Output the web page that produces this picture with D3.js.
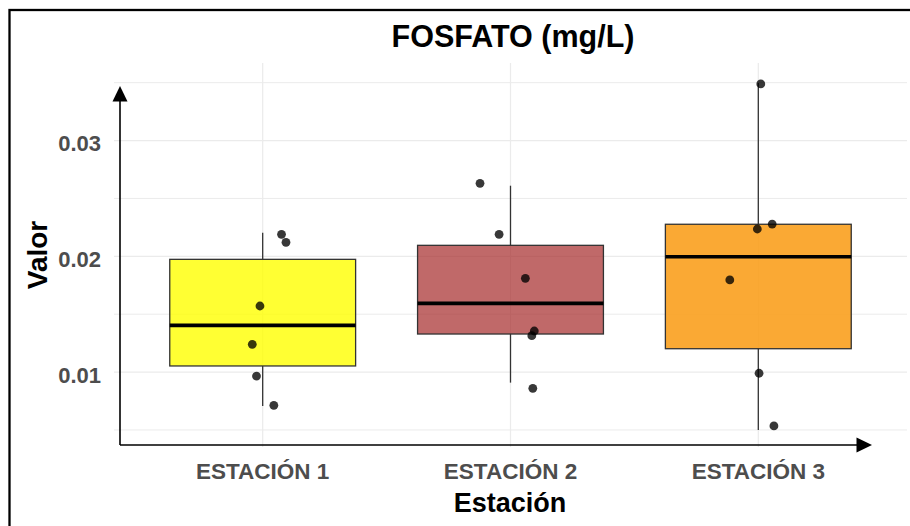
<!DOCTYPE html>
<html>
<head>
<meta charset="utf-8">
<script src="https://cdn.jsdelivr.net/npm/d3@7"></script>
<style>
  html, body { margin: 0; padding: 0; background: #fff; }
  svg { display: block; }
  text { font-family: "Liberation Sans", Arial, sans-serif; font-weight: bold; }
</style>
</head>
<body>
<svg id="chart" width="910" height="526"></svg>
<script>
// Stations on the x axis
const categories = ["ESTACIÓN 1", "ESTACIÓN 2", "ESTACIÓN 3"];

// Box summaries per station (mg/L)
const whiskerLow  = [0.00707, 0.00909, 0.00500];
const q1          = [0.01053, 0.01329, 0.01202];
const median      = [0.01404, 0.01594, 0.01997];
const q3          = [0.01974, 0.02095, 0.02277];
const whiskerHigh = [0.02204, 0.02610, 0.03497];

// Individual samples per station (values) and their horizontal jitter (in category units)
const samples1 = [0.02190, 0.02121, 0.01571, 0.01240, 0.00966, 0.00713];
const jitter1  = [0.076, 0.094, -0.011, -0.042, -0.025, 0.045];
const samples2 = [0.02631, 0.02190, 0.01810, 0.01355, 0.01315, 0.00860];
const jitter2  = [-0.123, -0.046, 0.060, 0.096, 0.086, 0.090];
const samples3 = [0.03489, 0.02236, 0.02279, 0.01796, 0.00990, 0.00535];
const jitter3  = [0.010, -0.004, 0.056, -0.115, 0.003, 0.063];

const fills = ["#FFFF00", "#A52A2A", "#FAA01E"];
const fillOpacity = [0.8, 0.7, 0.9];

const majorTicks = [0.01, 0.02, 0.03];
const minorTicks = [0.005, 0.015, 0.025, 0.035];

const svg = d3.select("#chart");

// Panel extents
const panel = { left: 114, right: 907, top: 63, bottom: 447 };

const x = d3.scalePoint()
  .domain(categories)
  .range([panel.left, panel.right])
  .padding(0.6);
const step = x.step();

const y = d3.scaleLinear()
  .domain([0.00353, 0.0367])
  .range([panel.bottom, panel.top]);

// Outer frame
svg.append("rect")
  .attr("x", 9.5).attr("y", 10)
  .attr("width", 1000).attr("height", 1000)
  .attr("fill", "none").attr("stroke", "#000").attr("stroke-width", 2.3);

// Grid
const grid = svg.append("g").attr("stroke", "#EBEBEB").attr("fill", "none");
grid.selectAll("line.minor").data(minorTicks).join("line")
  .attr("x1", panel.left).attr("x2", panel.right)
  .attr("y1", d => y(d)).attr("y2", d => y(d))
  .attr("stroke-width", 1);
grid.selectAll("line.major").data(majorTicks).join("line")
  .attr("x1", panel.left).attr("x2", panel.right)
  .attr("y1", d => y(d)).attr("y2", d => y(d))
  .attr("stroke-width", 1.2);
grid.selectAll("line.vert").data(categories).join("line")
  .attr("x1", d => x(d)).attr("x2", d => x(d))
  .attr("y1", panel.top).attr("y2", panel.bottom)
  .attr("stroke-width", 1.2);

// Boxes
const boxW = step * 0.75;
const boxes = svg.append("g");
categories.forEach((c, i) => {
  const cx = x(c);
  const g = boxes.append("g");
  g.append("line")
    .attr("x1", cx).attr("x2", cx)
    .attr("y1", y(whiskerHigh[i])).attr("y2", y(q3[i]))
    .attr("stroke", "#333").attr("stroke-width", 1.3);
  g.append("line")
    .attr("x1", cx).attr("x2", cx)
    .attr("y1", y(q1[i])).attr("y2", y(whiskerLow[i]))
    .attr("stroke", "#333").attr("stroke-width", 1.3);
  g.append("rect")
    .attr("x", cx - boxW / 2).attr("width", boxW)
    .attr("y", y(q3[i])).attr("height", y(q1[i]) - y(q3[i]))
    .attr("fill", fills[i]).attr("fill-opacity", fillOpacity[i])
    .attr("stroke", "#333").attr("stroke-width", 1.3);
  g.append("line")
    .attr("x1", cx - boxW / 2).attr("x2", cx + boxW / 2)
    .attr("y1", y(median[i])).attr("y2", y(median[i]))
    .attr("stroke", "#000").attr("stroke-width", 3.6);
});

// Jittered samples
const allSamples = [samples1, samples2, samples3];
const allJitter = [jitter1, jitter2, jitter3];
const pts = svg.append("g");
categories.forEach((c, i) => {
  pts.selectAll(null)
    .data(allSamples[i].map((v, k) => ({ v, j: allJitter[i][k] })))
    .join("circle")
    .attr("cx", d => x(c) + d.j * step)
    .attr("cy", d => y(d.v))
    .attr("r", 4.4)
    .attr("fill", "#000").attr("fill-opacity", 0.78);
});

// Axis lines with arrowheads
const axisX0 = 120, axisY0 = 445;
svg.append("line")
  .attr("x1", axisX0).attr("x2", axisX0)
  .attr("y1", axisY0).attr("y2", 100)
  .attr("stroke", "#000").attr("stroke-width", 1.6);
svg.append("path")
  .attr("d", `M${axisX0},86 L${axisX0 - 7.5},101.5 L${axisX0 + 7.5},101.5 Z`)
  .attr("fill", "#000");
svg.append("line")
  .attr("x1", axisX0).attr("x2", 858)
  .attr("y1", axisY0).attr("y2", axisY0)
  .attr("stroke", "#000").attr("stroke-width", 1.6);
svg.append("path")
  .attr("d", `M872,${axisY0} L856.5,${axisY0 - 7.5} L856.5,${axisY0 + 7.5} Z`)
  .attr("fill", "#000");

// Y tick labels
svg.append("g").selectAll("text").data(majorTicks).join("text")
  .attr("x", 101).attr("y", d => y(d) + 10.5)
  .attr("text-anchor", "end")
  .attr("font-size", 22)
  .attr("fill", "#4D4D4D")
  .text(d => d3.format(".2f")(d));

// X tick labels
svg.append("g").selectAll("text").data(categories).join("text")
  .attr("x", d => x(d)).attr("y", 479.3)
  .attr("text-anchor", "middle")
  .attr("font-size", 22.5)
  .attr("fill", "#4D4D4D")
  .text(d => d);

// Axis titles
svg.append("text")
  .attr("x", 510).attr("y", 511.7)
  .attr("text-anchor", "middle")
  .attr("font-size", 27)
  .attr("fill", "#000")
  .text("Estación");
svg.append("text")
  .attr("transform", "translate(46.5,255) rotate(-90)")
  .attr("text-anchor", "middle")
  .attr("font-size", 28)
  .attr("fill", "#000")
  .text("Valor");

// Title
svg.append("text")
  .attr("x", 513).attr("y", 46.5)
  .attr("text-anchor", "middle")
  .attr("font-size", 30.5)
  .attr("fill", "#000")
  .text("FOSFATO (mg/L)");
</script>
</body>
</html>
